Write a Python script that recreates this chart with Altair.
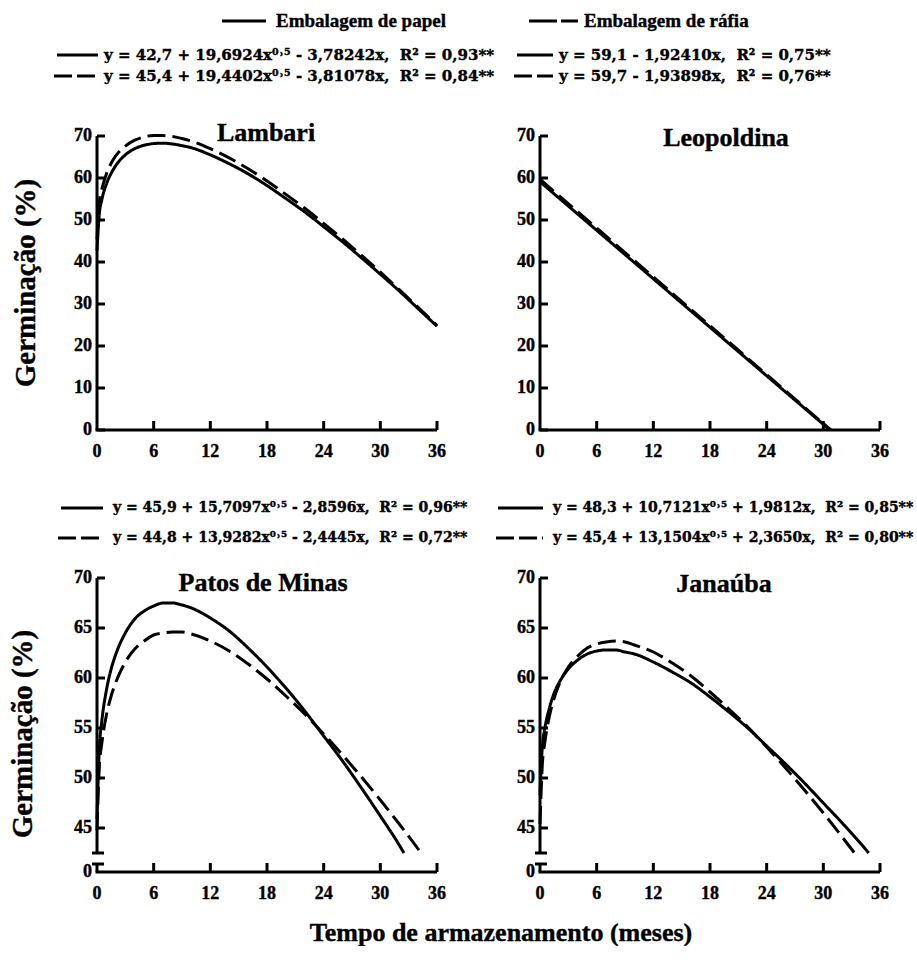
import altair as alt
import pandas as pd

FONT = "Liberation Serif"
EQFONT = "DejaVu Serif"

# ---------------- data ----------------
months = [0, 0.25, 0.5, 1, 1.5, 2, 3, 4, 5, 6, 7, 8, 9, 10, 12, 14, 16, 18, 20,
          22, 24, 26, 28, 30, 32, 34, 36]

lambari_papel = [42.7, 51.6, 54.7, 58.6, 61.1, 63.0, 65.5, 67.0, 67.8, 68.2, 68.3, 68.1, 67.7,
                 67.2, 65.5, 63.4, 61.0, 58.2, 55.1, 51.9, 48.4, 44.8, 41.0, 37.1, 33.1, 28.9, 24.7]
lambari_rafia = [45.4, 54.2, 57.2, 61.0, 63.5, 65.3, 67.6, 69.0, 69.8, 70.1, 70.1, 69.9, 69.4,
                 68.8, 67.0, 64.8, 62.2, 59.3, 56.1, 52.8, 49.2, 45.5, 41.6, 37.6, 33.4, 29.2, 24.9]

leop_months_papel = [0, 30.7]
leop_papel = [59.1, 0.0]
leop_months_rafia = [0, 30.8]
leop_rafia = [59.7, 0.0]

patos_months_papel = months[:25] + [32.5]
patos_papel = [45.9, 53.0, 55.6, 58.8, 60.9, 62.4, 64.5, 65.9, 66.7, 67.2, 67.5, 67.5, 67.3,
               67.0, 66.0, 64.7, 63.0, 61.1, 59.0, 56.7, 54.2, 51.7, 49.0, 46.2, 43.3, 42.5]
patos_months_rafia = months[:26] + [34.3]
patos_rafia = [44.8, 51.2, 53.4, 56.3, 58.2, 59.6, 61.6, 62.9, 63.7, 64.3, 64.5, 64.6, 64.6,
               64.4, 63.7, 62.7, 61.4, 59.9, 58.2, 56.4, 54.4, 52.3, 50.1, 47.8, 45.4, 42.9, 42.5]

jan_months_papel = months[:26] + [34.8]
jan_papel = [48.3, 53.2, 54.9, 57.0, 58.5, 59.5, 60.9, 61.8, 62.4, 62.7, 62.8, 62.8, 62.6,
             62.4, 61.6, 60.6, 59.5, 58.1, 56.6, 55.0, 53.2, 51.4, 49.5, 47.5, 45.5, 43.4, 42.5]
jan_months_rafia = months[:24] + [32, 33.3]
jan_rafia = [45.4, 51.4, 53.5, 56.2, 58.0, 59.3, 61.1, 62.2, 63.0, 63.4, 63.6, 63.7, 63.6,
             63.3, 62.6, 61.5, 60.2, 58.6, 56.9, 55.1, 53.1, 51.0, 48.8, 46.5, 44.1, 42.5]

x_ticks = [0, 6, 12, 18, 24, 30, 36]
x_labels = ["0", "6", "12", "18", "24", "30", "36"]
y_ticks_top = [0, 10, 20, 30, 40, 50, 60, 70]
y_labels_top = ["0", "10", "20", "30", "40", "50", "60", "70"]
y_ticks_bottom = [45, 50, 55, 60, 65, 70]
y_zero_bottom = 40.6     # position of the "0" on the broken axis
y_labels_bottom = ["0", "45", "50", "55", "60", "65", "70"]
y_break = [42.5, 41.4]   # ends of the axis break

titles = ["Lambari", "Leopoldina", "Patos de Minas", "Janaúba"]
legend_labels = ["Embalagem de papel", "Embalagem de ráfia"]
NB = "\u00a0"
eq_lambari = ["y = 42,7 + 19,6924x⁰˒⁵ - 3,78242x," + NB * 2 + "R² = 0,93**",
              "y = 45,4 + 19,4402x⁰˒⁵ - 3,81078x," + NB * 2 + "R² = 0,84**"]
eq_leop = ["y = 59,1 - 1,92410x," + NB * 2 + "R² = 0,75**",
           "y = 59,7 - 1,93898x," + NB * 2 + "R² = 0,76**"]
eq_patos = ["y = 45,9 + 15,7097x⁰˒⁵ - 2,8596x," + NB * 2 + "R² = 0,96**",
            "y = 44,8 + 13,9282x⁰˒⁵ - 2,4445x," + NB * 2 + "R² = 0,72**"]
eq_jan = ["y = 48,3 + 10,7121x⁰˒⁵ + 1,9812x," + NB * 2 + "R² = 0,85**",
          "y = 45,4 + 13,1504x⁰˒⁵ + 2,3650x," + NB * 2 + "R² = 0,80**"]
y_title = "Germinação (%)"
x_title = "Tempo de armazenamento (meses)"


def curves(mp, vp, mr, vr):
    return pd.DataFrame({
        "mes": list(mp) + list(mr),
        "germ": list(vp) + list(vr),
        "emb": ["papel"] * len(mp) + ["rafia"] * len(mr),
    })


one = pd.DataFrame({"k": [0]})
SOLID = [1, 0]
DASH = [18, 7]
LW = 3
TSTROKE = 0.4


def txt(s, x, y, size, align="left", angle=0, font=FONT):
    return alt.Chart(one).mark_text(
        text=s, font=font, fontWeight="bold", fontSize=size, align=align,
        baseline="middle", angle=angle, color="black", stroke="black", strokeWidth=TSTROKE
    ).encode(x=alt.value(x), y=alt.value(y))


def seg(x1, x2, y, dash=SOLID, width=LW):
    return alt.Chart(one).mark_rule(color="black", strokeWidth=width, strokeDash=dash).encode(
        x=alt.value(x1), x2=alt.value(x2), y=alt.value(y))


def panel(df, ydom, ylab_vals, ylab_text, tick_vals, axis_segs, caps, w, h, title, tx, ty, extra):
    xs = alt.Scale(domain=[0, 36], nice=False, zero=False)
    ys = alt.Scale(domain=ydom, nice=False, zero=False)
    lines = alt.Chart(df).mark_line(color="black", strokeWidth=LW, interpolate="monotone").encode(
        x=alt.X("mes:Q", scale=xs, axis=None),
        y=alt.Y("germ:Q", scale=ys, axis=None),
        strokeDash=alt.StrokeDash("emb:N", scale=alt.Scale(domain=["papel", "rafia"], range=[SOLID, DASH]),
                                  legend=None),
    )
    segdf = pd.DataFrame({"lo": [a for a, b in axis_segs], "hi": [b for a, b in axis_segs]})
    yaxis = alt.Chart(segdf).mark_rule(color="black", strokeWidth=LW).encode(
        x=alt.value(0), y=alt.Y("lo:Q", scale=ys, axis=None), y2="hi:Q")
    yt = alt.Chart(pd.DataFrame({"v": tick_vals})).mark_rule(color="black", strokeWidth=LW).encode(
        y=alt.Y("v:Q", scale=ys, axis=None), x=alt.value(0), x2=alt.value(8))
    ylab = alt.Chart(pd.DataFrame({"v": ylab_vals, "t": ylab_text})).mark_text(
        font=FONT, fontWeight="bold", fontSize=18, align="right", baseline="middle", color="black",
        stroke="black", strokeWidth=TSTROKE
    ).encode(y=alt.Y("v:Q", scale=ys, axis=None), x=alt.value(-5), text="t:N")
    xaxis = alt.Chart(one).mark_rule(color="black", strokeWidth=LW).encode(
        x=alt.value(-1.5), x2=alt.value(w), y=alt.value(h))
    xt = alt.Chart(pd.DataFrame({"m": x_ticks[1:]})).mark_rule(color="black", strokeWidth=LW).encode(
        x=alt.X("m:Q", scale=xs, axis=None), y=alt.value(h), y2=alt.value(h - 9))
    xlab = alt.Chart(pd.DataFrame({"m": x_ticks, "t": x_labels})).mark_text(
        font=FONT, fontWeight="bold", fontSize=18, align="center", baseline="middle", color="black",
        stroke="black", strokeWidth=TSTROKE
    ).encode(x=alt.X("m:Q", scale=xs, axis=None), y=alt.value(h + 22), text="t:N")
    layers = [lines, yaxis, yt, ylab, xaxis, xt, xlab, txt(title, tx, ty, 26, align="center")]
    if caps:
        cp = alt.Chart(pd.DataFrame({"v": caps})).mark_rule(color="black", strokeWidth=LW).encode(
            y=alt.Y("v:Q", scale=ys, axis=None), x=alt.value(-5), x2=alt.value(7))
        layers.append(cp)
    layers += extra
    return alt.layer(*layers).properties(width=w, height=h)


W, H = 340, 294
EQT, EQB = 15, 14

# header (placed in Lambari's coordinates; its plot origin is page (96,135))
header = [
    alt.Chart(one).mark_rule(color="white", strokeWidth=1).encode(
        x=alt.value(-96), x2=alt.value(-95), y=alt.value(-135)),
    seg(125, 169, -115),
    txt(legend_labels[0], 179, -115, 19),
    seg(432, 481, -115, dash=[28, 4]),
    txt(legend_labels[1], 487, -115, 19),
    seg(-40, 1, -81),
    txt(eq_lambari[0], 7, -81, EQT, font=EQFONT),
    seg(-43, 1, -60, dash=[18, 5]),
    txt(eq_lambari[1], 7, -60, EQT, font=EQFONT),
    seg(420, 456, -81),
    txt(eq_leop[0], 462, -81, EQT, font=EQFONT),
    seg(417, 456, -60, dash=[18, 5]),
    txt(eq_leop[1], 462, -60, EQT, font=EQFONT),
    txt(y_title, -71, 147, 29, align="center", angle=270),
]

lam = panel(curves(months, lambari_papel, months, lambari_rafia), [0, 70], y_ticks_top, y_labels_top,
            y_ticks_top, [(0, 70)], None, W, H, titles[0], 169, -3, header)
leo = panel(curves(leop_months_papel, leop_papel, leop_months_rafia, leop_rafia), [0, 70],
            y_ticks_top, y_labels_top, y_ticks_top, [(0, 70)], None, W, H, titles[1], 186, 2, [])

patos_extra = [
    seg(-36, 6, -70),
    txt(eq_patos[0], 16, -70, EQB, font=EQFONT),
    seg(-39, 6, -40, dash=[18, 5]),
    txt(eq_patos[1], 16, -40, EQB, font=EQFONT),
    txt(y_title, -74, 156, 29, align="center", angle=270),
    txt(x_title, 404, 355, 26, align="center"),
]
jan_extra = [
    seg(-42, 3, -70),
    txt(eq_jan[0], 13, -70, EQB, font=EQFONT),
    seg(-44, 3, -40, dash=[18, 5]),
    txt(eq_jan[1], 13, -40, EQB, font=EQFONT),
]

bot_dom = [y_zero_bottom, 70]
bot_lab_vals = [y_zero_bottom] + y_ticks_bottom
pat = panel(curves(patos_months_papel, patos_papel, patos_months_rafia, patos_rafia), bot_dom,
            bot_lab_vals, y_labels_bottom, y_ticks_bottom,
            [(y_break[0], 70), (y_zero_bottom, y_break[1])],
            y_break, W, H, titles[2], 166, 5, patos_extra)
jan = panel(curves(jan_months_papel, jan_papel, jan_months_rafia, jan_rafia), bot_dom,
            bot_lab_vals, y_labels_bottom, y_ticks_bottom,
            [(y_break[0], 70), (y_zero_bottom, y_break[1])],
            y_break, W, H, titles[3], 184, 6, jan_extra)

chart = alt.concat(
    lam, leo, pat, jan, columns=2,
    spacing=alt.RowColnumber(row=148, column=103), bounds="flush"
).properties(padding=0, background="white").configure_view(stroke=None)

chart.save("out.html", embed_options={"renderer": "svg", "actions": False})
